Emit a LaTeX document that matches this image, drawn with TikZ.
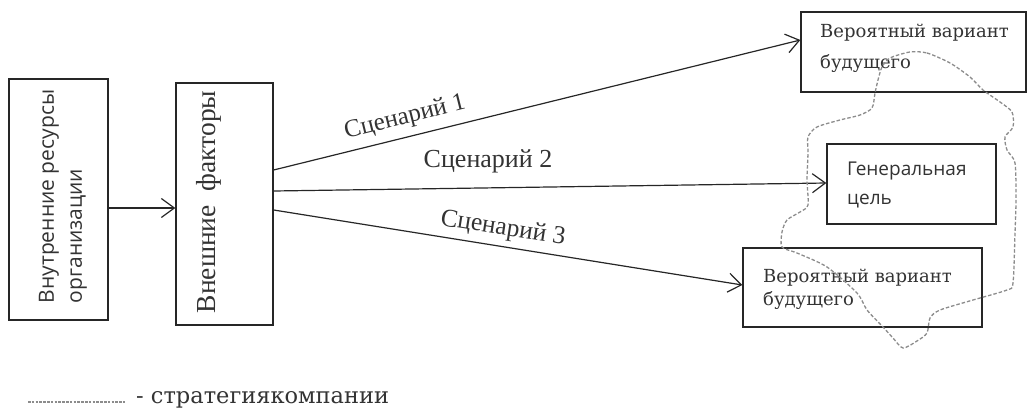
\documentclass[tikz,border=0pt]{standalone}
\usepackage{fontspec}
\setmainfont{Liberation Serif}
\newfontfamily\boxserif{DejaVu Serif}
\newfontfamily\boxsans{Open Sans}
\usetikzlibrary{arrows.meta}
\begin{document}
\begin{tikzpicture}[x=1pt,y=-1pt,
  boxr/.style={draw=black!85,line width=1.3pt,inner sep=0pt},
  arr/.style={draw=black!85,line width=1.2pt,-{Straight Barb[length=13pt,width=19pt,line width=1.2pt]}},
  cloud/.style={draw=black!45,line width=1.3pt,dash pattern=on 3.5pt off 2pt},
  lbl/.style={inner sep=0pt,text=black!80}]
\useasboundingbox (0,0) rectangle (1028,412);
% boxes
\node[boxr,minimum width=99pt,minimum height=241pt] (b1) at (58.5,199.5) {};
\node[boxr,minimum width=97pt,minimum height=242pt] (b2) at (224.5,204) {};
\node[boxr,minimum width=225pt,minimum height=80pt] (v1) at (913.5,52) {};
\node[boxr,minimum width=169pt,minimum height=80pt] (gc) at (911.5,184) {};
\node[boxr,minimum width=239pt,minimum height=79pt] (v2) at (862.5,287.5) {};
% texts in boxes
\node[lbl,rotate=90,align=left,font=\boxsans\fontsize{21}{28}\selectfont] (t1) at (63,196.5) {Внутренние ресурсы\\организации};
\node[lbl,rotate=90,font=\fontsize{27.5}{30}\selectfont] (t2) at (209,202) {Внешние\ \ факторы};
\node[lbl,anchor=base west,align=left,font=\boxserif\fontsize{18}{30}\selectfont] (t3) at (820,68) {Вероятный вариант\\будущего};
\node[lbl,anchor=base west,align=left,font=\boxsans\fontsize{19}{29}\selectfont] (t4) at (847,204) {Генеральная\\цель};
\node[lbl,anchor=base west,align=left,font=\boxserif\fontsize{18}{23}\selectfont] (t5) at (763,305) {Вероятный вариант\\будущего};
% connectors
\draw[arr] ([yshift=-8.5pt]b1.east) -- ([yshift=-8.5pt]b1.east -| b2.west);
\draw[arr] ([yshift=34pt]b2.east) -- ([yshift=12pt]v1.west);
\draw[arr] ([yshift=13pt]b2.east) -- ([yshift=1pt]gc.west);
\draw[arr] ([yshift=-6pt]b2.east) -- ([yshift=2.5pt]v2.west);
% scenario labels
\node[lbl,rotate=14,font=\fontsize{25}{28}\selectfont] (s1) at (405,118) {Сценарий 1};
\node[lbl,anchor=base,font=\fontsize{26}{28}\selectfont] (s2) at (488,167) {Сценарий 2};
\node[lbl,rotate=-9,font=\fontsize{25.5}{28}\selectfont] (s3) at (503,229) {Сценарий 3};
% strategy cloud
\draw[cloud] plot[smooth cycle,tension=0.45] coordinates {
 (910,52) (927,53) (950,63) (970,77) (983,90) (1000,102) (1012,112) (1013,127)
 (1005,137) (1007,150) (1015,163) (1016,200) (1015,233) (1013,283) (1007,290)
 (973,300) (940,310) (930,318) (927,333) (917,341) (903,348) (893,338) (883,327)
 (867,310) (857,293) (827,267) (797,253) (782,247) (782,232) (787,220) (800,212)
 (808,205) (807,180) (808,153) (808,137) (817,127) (840,120) (860,115) (872,108)
 (875,93) (878,80) (882,67) (890,58)};
% legend
\coordinate (lg1) at (28,402);
\coordinate (lg2) at (125,402);
\draw[cloud,line width=1.2pt,dash pattern=on 2.5pt off 1.3pt] (lg1) -- (lg2);
\node[lbl,anchor=west,font=\boxserif\fontsize{22.5}{26}\selectfont] (lt) at (136,400) {- стратегиякомпании};
\end{tikzpicture}
\end{document}
